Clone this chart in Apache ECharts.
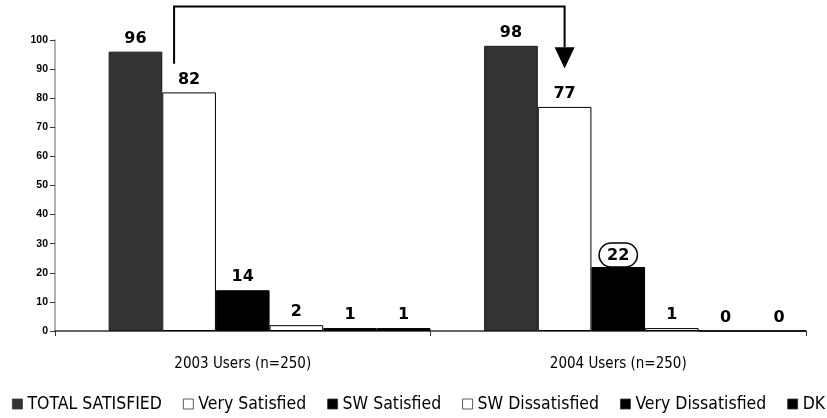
<!DOCTYPE html>
<html>
<head>
<meta charset="utf-8">
<script src="https://cdn.jsdelivr.net/npm/echarts@6/dist/echarts.min.js"></script>
<style>
html,body{margin:0;padding:0;background:#fff;}
#chart{width:827px;height:418px;}
</style>
</head>
<body>
<div id="chart"></div>
<script>
var categories = ['2003 Users (n=250)', '2004 Users (n=250)'];
var totalSatisfied = [96, 98];
var verySatisfied = [82, 77];
var swSatisfied = [14, 22];
var swDissatisfied = [2, 1];
var veryDissatisfied = [1, 0];
var dontKnow = [1, 0];
var yTicks = [0, 10, 20, 30, 40, 50, 60, 70, 80, 90, 100];
var circledPoint = { series: 'SW Satisfied', index: 1 };

var condFont = '"DejaVu Sans Condensed", "Liberation Sans Narrow", "DejaVu Sans", sans-serif';
var labelStyle = {
  show: true, position: 'top', distance: 5,
  fontFamily: '"DejaVu Sans", Verdana, sans-serif', fontWeight: 'bold', fontSize: 16, color: '#000'
};

function mkSeries(name, values, color, border) {
  return {
    name: name, type: 'bar', barGap: '0%', barCategoryGap: '0%',
    data: values.map(function (v, i) {
      if (name === circledPoint.series && i === circledPoint.index) {
        return { value: v, label: { borderColor: '#000', borderWidth: 1.5, borderRadius: 14, padding: [5, 8, 3, 8], distance: 0 } };
      }
      return v;
    }),
    itemStyle: { color: color, borderColor: border, borderWidth: 1 },
    label: labelStyle,
    emphasis: { disabled: true }
  };
}

var chart = echarts.init(document.getElementById('chart'));
var option = {
  animation: false,
  backgroundColor: '#fff',
  grid: { left: 55, right: 21, top: 40, bottom: 87, containLabel: false },
  legend: {
    bottom: 5, left: 12, width: 815, padding: 0, itemWidth: 10, itemHeight: 10, itemGap: 21, icon: 'rect',
    data: ['TOTAL SATISFIED', 'Very Satisfied', 'SW Satisfied', 'SW Dissatisfied', 'Very Dissatisfied', 'DK'],
    itemStyle: { borderWidth: 0.8, borderColor: '#333' },
    textStyle: { fontFamily: condFont, fontSize: 17.5, color: '#000' },
    selectedMode: false
  },
  xAxis: {
    type: 'category', data: categories,
    axisLine: { lineStyle: { color: '#333', width: 1.5 } },
    axisTick: { show: true, length: 5, lineStyle: { color: '#333' } },
    axisLabel: { fontFamily: condFont, fontSize: 15, color: '#000', margin: 26 }
  },
  yAxis: {
    type: 'value', min: yTicks[0], max: yTicks[yTicks.length - 1], interval: 10,
    splitLine: { show: false },
    axisLine: { show: true, lineStyle: { color: '#999', width: 1.5 } },
    axisTick: { show: true, length: 5, lineStyle: { color: '#333' } },
    axisLabel: { fontFamily: '"Liberation Sans", Arial, sans-serif', fontWeight: 'bold', fontSize: 10.5, color: '#000', margin: 7 }
  },
  series: [
    { name: 'spacer', type: 'bar', barGap: '0%', barCategoryGap: '0%', data: [null, null], silent: true },
    mkSeries('TOTAL SATISFIED', totalSatisfied, '#333333', '#1a1a1a'),
    mkSeries('Very Satisfied', verySatisfied, '#ffffff', '#000'),
    mkSeries('SW Satisfied', swSatisfied, '#000000', '#000'),
    mkSeries('SW Dissatisfied', swDissatisfied, '#ffffff', '#000'),
    mkSeries('Very Dissatisfied', veryDissatisfied, '#000000', '#000'),
    mkSeries('DK', dontKnow, '#000000', '#000')
  ]
};
chart.setOption(option);

// bracket arrow annotation (from 2003 Very Satisfied area to 2004 Very Satisfied bar)
var c0 = chart.convertToPixel({ xAxisIndex: 0 }, 0);
var c1 = chart.convertToPixel({ xAxisIndex: 0 }, 1);
var catW = c1 - c0;
var barW = catW / 7;
var sx = c0 - catW / 2 + barW * 2.22;
var ex = c1 - catW / 2 + barW * 2.5;
function py(v) { return chart.convertToPixel({ yAxisIndex: 0 }, v); }
var yTop = py(111.5), yStart = py(91.8), yBase = py(97.5), yTip = py(90.2);
chart.setOption({
  graphic: [
    { type: 'polyline', shape: { points: [[sx, yStart], [sx, yTop], [ex, yTop], [ex, yBase]] },
      style: { stroke: '#000', lineWidth: 2, fill: null } },
    { type: 'polygon', shape: { points: [[ex - 10, yBase], [ex + 10, yBase], [ex, yTip]] },
      style: { fill: '#000' } }
  ]
});
</script>
</body>
</html>
